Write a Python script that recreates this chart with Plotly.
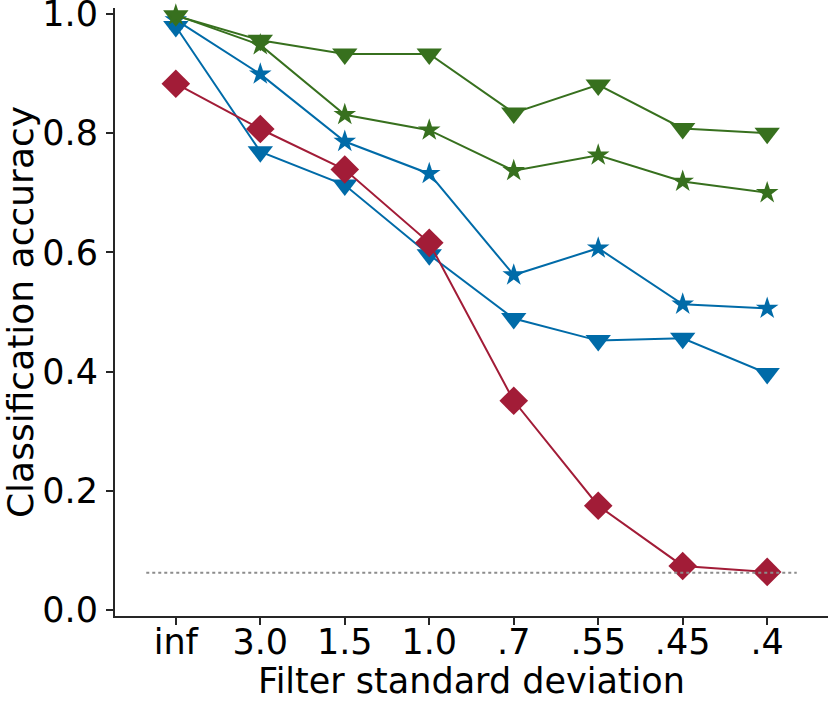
import plotly.graph_objects as go

# Filter widths on the x axis (categorical)
sigmas = ["inf", "3.0", "1.5", "1.0", ".7", ".55", ".45", ".4"]

# Classification accuracy per model
blue_star = [0.990, 0.899, 0.786, 0.732, 0.562, 0.607, 0.513, 0.506]
blue_tri = [0.979, 0.769, 0.713, 0.596, 0.489, 0.452, 0.456, 0.397]
green_tri = [0.997, 0.956, 0.933, 0.933, 0.834, 0.881, 0.808, 0.800]
green_star = [0.998, 0.948, 0.831, 0.805, 0.737, 0.763, 0.719, 0.700]
red_diamond = [0.883, 0.807, 0.739, 0.616, 0.351, 0.175, 0.074, 0.064]

chance = 0.0625

BLUE = "#006BA8"
GREEN = "#37701E"
RED = "#A21C37"
AXIS = "#262626"
FONT = "DejaVu Sans, Liberation Sans, sans-serif"

series = [
    (blue_star, BLUE, "star", 17),
    (blue_tri, BLUE, "triangle-down", 22),
    (green_tri, GREEN, "triangle-down", 22),
    (green_star, GREEN, "star", 17),
    (red_diamond, RED, "diamond", 22),
]

fig = go.Figure()
for vals, color, symbol, size in series:
    fig.add_trace(go.Scatter(
        x=sigmas,
        y=vals,
        mode="lines+markers",
        line=dict(color=color, width=2),
        marker=dict(symbol=symbol, size=size, color=color,
                    line=dict(width=0)),
        showlegend=False,
        cliponaxis=False,
    ))

# chance level
fig.add_shape(type="line", xref="x", yref="y",
              x0=-0.35, x1=7.35, y0=chance, y1=chance,
              line=dict(color="#8C8C8C", width=2, dash="dot"),
              layer="above")

fig.update_layout(
    width=830,
    height=701,
    margin=dict(l=115, r=2, t=8, b=85),
    paper_bgcolor="white",
    plot_bgcolor="white",
    font=dict(family=FONT, size=35, color="black"),
)

fig.update_xaxes(
    type="category",
    range=[-0.72, 7.72],
    automargin=False,
    showline=True, linecolor=AXIS, linewidth=2,
    ticks="outside", ticklen=7, tickwidth=1.5, tickcolor=AXIS,
    ticklabelstandoff=-13,
    showgrid=False, zeroline=False,
    tickfont=dict(size=35),
    title=dict(text="Filter standard deviation", font=dict(size=35), standoff=14),
)
fig.update_yaxes(
    range=[-0.01, 1.01],
    automargin=False,
    tickvals=[0.0, 0.2, 0.4, 0.6, 0.8, 1.0],
    ticktext=["0.0", "0.2", "0.4", "0.6", "0.8", "1.0"],
    ticklabeloverflow="allow",
    showline=True, linecolor=AXIS, linewidth=2,
    ticks="outside", ticklen=7, tickwidth=1.5, tickcolor=AXIS,
    ticklabelstandoff=1,
    showgrid=False, zeroline=False,
    tickfont=dict(size=35),
    title=dict(text="Classification accuracy", font=dict(size=36), standoff=6),
)

# page body has an 8px default margin; drop it so the figure sits at 0,0
fig.write_html("out.html", config={"displayModeBar": False},
               post_script="document.body.style.margin = '0px';")
